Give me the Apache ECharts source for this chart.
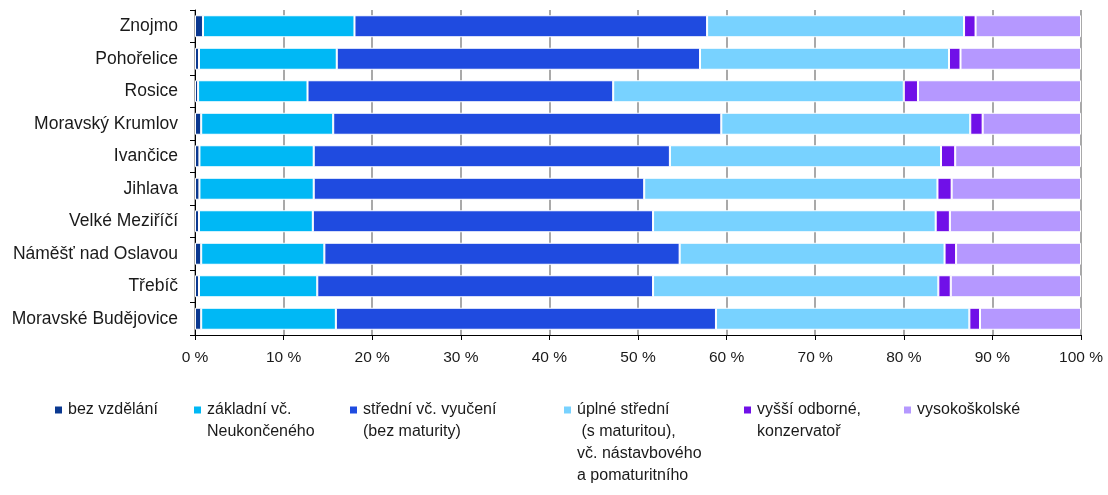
<!DOCTYPE html>
<html>
<head>
<meta charset="utf-8">
<script src="https://cdn.jsdelivr.net/npm/echarts@6/dist/echarts.min.js"></script>
<style>
  html, body { margin: 0; padding: 0; background: #fff; }
  #chart { width: 1108px; height: 495px; }
</style>
</head>
<body>
<div id="chart"></div>
<script>
// kategorie (shora dolů)
var towns = ['Znojmo', 'Pohořelice', 'Rosice', 'Moravský Krumlov', 'Ivančice', 'Jihlava',
  'Velké Meziříčí', 'Náměšť nad Oslavou', 'Třebíč', 'Moravské Budějovice'];

// podíly v % podle stupně vzdělání
var bezVzdelani = [0.9, 0.45, 0.35, 0.7, 0.5, 0.5, 0.45, 0.7, 0.45, 0.7];
var zakladni    = [17.1, 15.55, 12.35, 14.9, 12.9, 12.9, 12.85, 13.9, 13.35, 15.2];
var stredni     = [39.8, 41.0, 34.5, 43.8, 40.2, 37.3, 38.4, 40.1, 37.9, 42.9];
var uplne       = [29.0, 28.1, 32.8, 28.1, 30.6, 33.1, 31.9, 29.9, 32.2, 28.6];
var vyssi       = [1.3, 1.3, 1.6, 1.4, 1.6, 1.6, 1.6, 1.3, 1.4, 1.2];
var vysoko      = [11.9, 13.6, 18.4, 11.1, 14.2, 14.6, 14.8, 14.1, 14.7, 11.4];

var xTicks = [0, 10, 20, 30, 40, 50, 60, 70, 80, 90, 100];

var seriesNames = ['bez vzdělání', 'základní vč. Neukončeného', 'střední vč. vyučení (bez maturity)',
  'úplné střední (s maturitou), vč. nástavbového a pomaturitního', 'vyšší odborné, konzervatoř', 'vysokoškolské'];
// text legendy po řádcích
var legendLines = [
  ['bez vzdělání'],
  ['základní vč.', 'Neukončeného'],
  ['střední vč. vyučení', '(bez maturity)'],
  ['úplné střední', ' (s maturitou),', 'vč. nástavbového', 'a pomaturitního'],
  ['vyšší odborné,', 'konzervatoř'],
  ['vysokoškolské']
];
var seriesData = [bezVzdelani, zakladni, stredni, uplne, vyssi, vysoko];
var colors = ['#0a3890', '#00b8f5', '#1f4be0', '#78d2ff', '#7010e8', '#b598ff'];

var font = 'Liberation Sans, Arial, sans-serif';
var textColor = '#1a1a1a';

var chart = echarts.init(document.getElementById('chart'));

var series = seriesNames.map(function (name, i) {
  return {
    name: name,
    type: 'bar',
    stack: 'total',
    barWidth: 22,
    data: seriesData[i],
    itemStyle: { color: colors[i], borderColor: '#fff', borderWidth: 1 },
    emphasis: { disabled: true }
  };
});

// jedna legenda pro každou položku; text je svisle centrovaný na ikonu,
// proto se před něj přidají prázdné řádky, aby první řádek byl u ikony
var legendLeft = [53, 192, 348, 562, 742, 902];
var lh = 22;
var iconCenter = 410;
var legends = seriesNames.map(function (name, i) {
  var n = legendLines[i].length;
  var pad = [];
  for (var k = 1; k < n; k++) pad.push(' ');
  return {
    data: [name],
    left: legendLeft[i],
    top: iconCenter - (2 * n - 1) * lh / 2,
    itemWidth: 9,
    itemHeight: 9,
    itemGap: 0,
    icon: 'rect',
    selectedMode: false,
    padding: 0,
    formatter: function () { return pad.concat(legendLines[i]).join('\n'); },
    textStyle: {
      fontFamily: font,
      fontSize: 16,
      color: textColor,
      lineHeight: lh
    }
  };
});

var option = {
  animation: false,
  backgroundColor: '#fff',
  grid: { left: 195, right: 27, top: 10, bottom: 160, containLabel: false },
  xAxis: {
    type: 'value',
    min: 0,
    max: 100,
    interval: 10,
    axisLine: { show: true, lineStyle: { color: '#000', width: 1 } },
    axisTick: { show: true, length: 5, lineStyle: { color: '#000' } },
    axisLabel: {
      formatter: function (v) { return xTicks.indexOf(v) >= 0 ? v + ' %' : ''; },
      fontFamily: font,
      fontSize: 15.5,
      color: textColor,
      margin: 15
    },
    splitLine: { show: true, lineStyle: { color: '#8c8c8c', width: 1.5 } }
  },
  yAxis: {
    type: 'category',
    inverse: true,
    data: towns,
    axisLine: { show: true, lineStyle: { color: '#000', width: 1 } },
    axisTick: { show: true, length: 5, inside: false, lineStyle: { color: '#000' } },
    axisLabel: {
      fontFamily: font,
      fontSize: 17.5,
      color: textColor,
      margin: 17
    }
  },
  legend: legends,
  series: series
};

chart.setOption(option);
</script>
</body>
</html>
